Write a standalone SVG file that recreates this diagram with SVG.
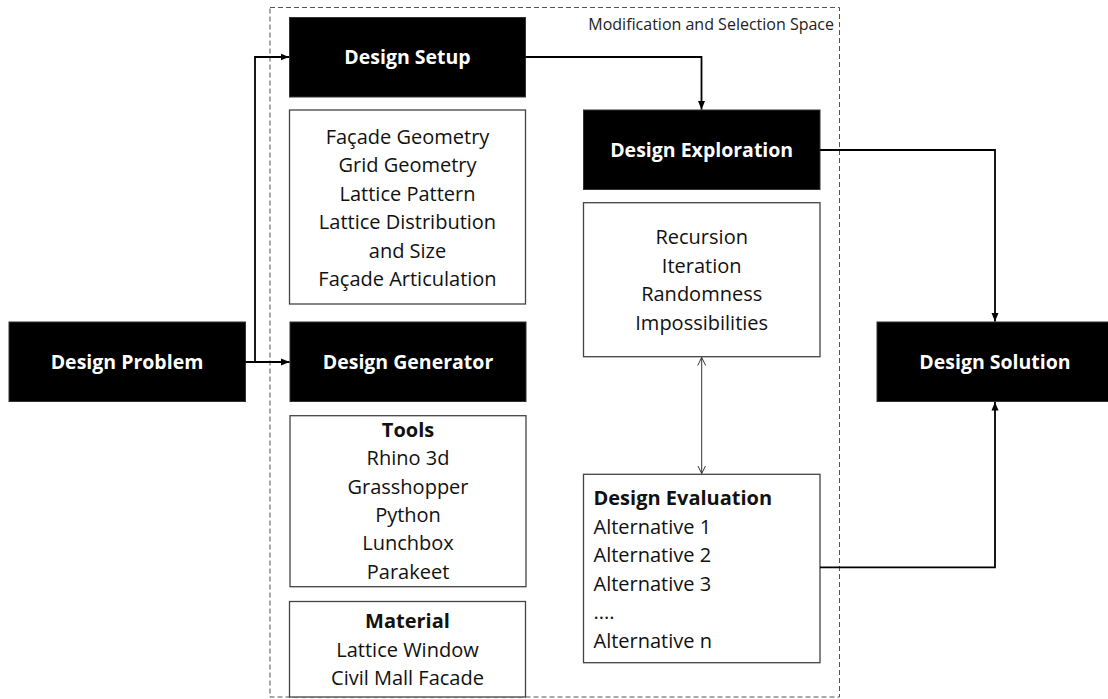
<svg xmlns="http://www.w3.org/2000/svg" width="1108" height="699" viewBox="0 0 1108 699">
<style>
.blk{fill:#000;stroke:#333;stroke-width:1}
.wbox{fill:#fff;stroke:#444;stroke-width:1.3}
.h{font-family:"Open Sans","Noto Sans",sans-serif;font-weight:bold;font-size:19.5px;fill:#fff;text-anchor:middle}
.t{font-family:"Open Sans","Noto Sans",sans-serif;font-size:20px;fill:#111;text-anchor:middle}
.tb{font-weight:bold}
.l{text-anchor:start}
.lbl{font-family:"Open Sans","Noto Sans",sans-serif;font-size:16px;fill:#222;text-anchor:end}
.con{fill:none;stroke:#000;stroke-width:1.8}
.thin{fill:none;stroke:#333;stroke-width:1}
</style>
<defs>
<marker id="ah" markerUnits="userSpaceOnUse" markerWidth="9" markerHeight="8" refX="8.5" refY="4" orient="auto">
<path d="M0,0.5 L8.5,4 L0,7.5 z" fill="#000"/>
</marker>
<marker id="oa" markerUnits="userSpaceOnUse" markerWidth="10" markerHeight="10" refX="8" refY="4.5" orient="auto-start-reverse">
<path d="M0,0.5 L8,4.5 L0,8.5" fill="none" stroke="#333" stroke-width="1"/>
</marker>
</defs>
<rect width="1108" height="699" fill="#fff"/>

<g id="space">
<rect x="270" y="7.5" width="569.5" height="689.5" fill="none" stroke="#555" stroke-width="1" stroke-dasharray="5,3"/>
<text class="lbl" x="834" y="29.5">Modification and Selection Space</text>
</g>

<g id="design-problem">
<rect class="blk" x="9" y="322" width="236.5" height="79.5"/>
<text class="h" x="127" y="368.5">Design Problem</text>
</g>

<g id="design-setup">
<rect class="blk" x="289.5" y="17.5" width="236" height="79.5"/>
<text class="h" x="407.5" y="64">Design Setup</text>
</g>

<g id="setup-params">
<rect class="wbox" x="289.5" y="110" width="236" height="194"/>
<text class="t" x="407.5" y="144">Façade Geometry</text>
<text class="t" x="407.5" y="172.4">Grid Geometry</text>
<text class="t" x="407.5" y="200.8">Lattice Pattern</text>
<text class="t" x="407.5" y="229.2">Lattice Distribution</text>
<text class="t" x="407.5" y="257.6">and Size</text>
<text class="t" x="407.5" y="286">Façade Articulation</text>
</g>

<g id="design-generator">
<rect class="blk" x="290" y="322" width="236" height="79.5"/>
<text class="h" x="408" y="368.5">Design Generator</text>
</g>

<g id="tools">
<rect class="wbox" x="290" y="415.7" width="236" height="171"/>
<text class="t tb" x="408" y="437">Tools</text>
<text class="t" x="408" y="465.3">Rhino 3d</text>
<text class="t" x="408" y="493.7">Grasshopper</text>
<text class="t" x="408" y="522">Python</text>
<text class="t" x="408" y="550.3">Lunchbox</text>
<text class="t" x="408" y="578.6">Parakeet</text>
</g>

<g id="material">
<rect class="wbox" x="289.5" y="601.5" width="236" height="95.5"/>
<text class="t tb" x="407.5" y="627.7">Material</text>
<text class="t" x="407.5" y="657">Lattice Window</text>
<text class="t" x="407.5" y="685.3">Civil Mall Facade</text>
</g>

<g id="design-exploration">
<rect class="blk" x="583.5" y="110" width="236.5" height="79.5"/>
<text class="h" x="701.7" y="156.5">Design Exploration</text>
</g>

<g id="exploration-methods">
<rect class="wbox" x="583.5" y="202.7" width="236.5" height="154"/>
<text class="t" x="701.7" y="244">Recursion</text>
<text class="t" x="701.7" y="272.7">Iteration</text>
<text class="t" x="701.7" y="301">Randomness</text>
<text class="t" x="701.7" y="329.7">Impossibilities</text>
</g>

<g id="design-evaluation">
<rect class="wbox" x="583.5" y="474.3" width="236.5" height="188.4"/>
<text class="t tb l" x="593.5" y="505.3">Design Evaluation</text>
<text class="t l" x="593.5" y="533.7">Alternative 1</text>
<text class="t l" x="593.5" y="562">Alternative 2</text>
<text class="t l" x="593.5" y="590.5">Alternative 3</text>
<text class="t l" x="593.5" y="619">....</text>
<text class="t l" x="593.5" y="647.5">Alternative n</text>
</g>

<g id="design-solution">
<rect class="blk" x="877" y="322" width="236" height="79.5"/>
<text class="h" x="995" y="368.5">Design Solution</text>
</g>

<g id="connectors">
<path class="con" d="M245.5,362 H255 V57 H289" marker-end="url(#ah)"/>
<path class="con" d="M245.5,362 H289.5" marker-end="url(#ah)"/>
<path class="con" d="M525.5,57 H701.5 V109.5" marker-end="url(#ah)"/>
<path class="con" d="M820,150 H995 V321.5" marker-end="url(#ah)"/>
<path class="con" d="M820,567.3 H995 V402" marker-end="url(#ah)"/>
<path class="thin" d="M701.7,357.5 V473.5" marker-start="url(#oa)" marker-end="url(#oa)"/>
</g>
</svg>
